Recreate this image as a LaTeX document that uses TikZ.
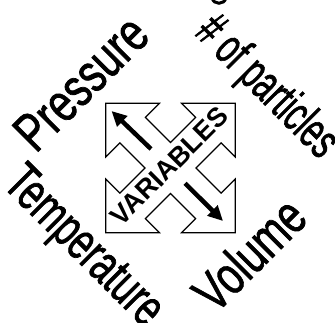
\documentclass[tikz,border=0pt]{standalone}
\usepackage{fontspec}
\setmainfont{Liberation Sans}
\newfontfamily\heavyfont[FakeBold=1.5]{Liberation Sans}
\usetikzlibrary{arrows.meta}
\newcommand{\narrowtext}[2]{\scalebox{#1}[1]{#2}}
\tikzset{
  outline/.style={draw=black, line width=1.2pt, line join=miter, fill=white},
  biglabel/.style={inner sep=0pt, font=\heavyfont\fontsize{#1}{#1}\selectfont},
  midlabel/.style={inner sep=0pt, font=\fontsize{27}{27}\selectfont\bfseries},
  inarrow/.style={line width=4.5pt, -{Triangle[length=15pt,width=14pt]}}
}
\begin{document}
\begin{tikzpicture}[x=1pt,y=-1pt]
\useasboundingbox (0,0) rectangle (335,323);
% four-way diagonal arrow
\begin{scope}[shift={(170.5,168)}, rotate=45]
\def\w{18}\def\L{53.5}\def\H{38}\def\T{91.5}
\draw[outline] (\w,-\w) -- (\L,-\w) -- (\L,-\H) -- (\T,0) -- (\L,\H) -- (\L,\w) -- (\w,\w)
  -- (\w,\L) -- (\H,\L) -- (0,\T) -- (-\H,\L) -- (-\w,\L) -- (-\w,\w)
  -- (-\L,\w) -- (-\L,\H) -- (-\T,0) -- (-\L,-\H) -- (-\L,-\w) -- (-\w,-\w)
  -- (-\w,-\L) -- (-\H,-\L) -- (0,-\T) -- (\H,-\L) -- (\w,-\L) -- cycle;
\end{scope}
\coordinate (a1s) at (151,149);
\coordinate (a1e) at (111.5,111);
\coordinate (a2s) at (185,183.3);
\coordinate (a2e) at (223,221);
\draw[inarrow] (a1s) -- (a1e);
\draw[inarrow] (a2s) -- (a2e);
\node[midlabel, rotate=45] (var) at (169,166) {VARIABLES};
% outer labels
\node[biglabel=54, rotate=45] (pres) at (81,83) {\narrowtext{0.76}{Pressure}};
\node[biglabel=50, rotate=-45] (part) at (266,88) {\narrowtext{0.63}{\# of particles}};
\node[biglabel=53, rotate=-45] (temp) at (82,248) {\narrowtext{0.68}{Temperature}};
\node[biglabel=54, rotate=45] (vol) at (249,254) {\narrowtext{0.74}{Volume}};
% cropped glyph at top edge
\begin{scope}
\clip (0,0) rectangle (335,323);
\draw[line width=3pt] (212,-2) .. controls (214,5) and (224,5) .. (226,-2);
\end{scope}
\end{tikzpicture}
\end{document}
